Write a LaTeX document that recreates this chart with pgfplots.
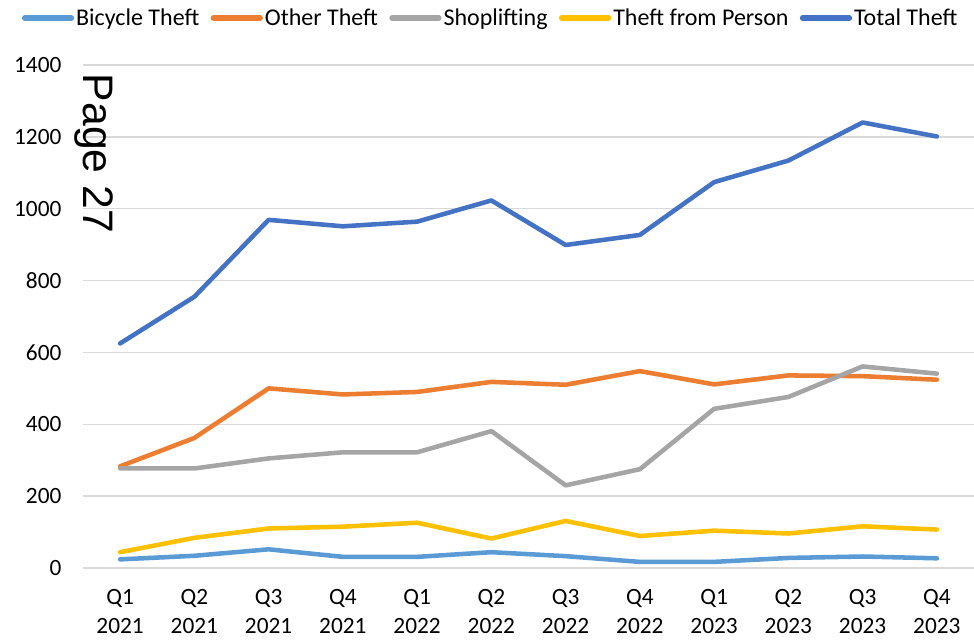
\documentclass[border=0pt]{standalone}
\usepackage{fontspec}
\setmainfont{Carlito}
\newfontfamily\pagefont{Liberation Sans}
\usepackage{pgfplots}
\pgfplotsset{compat=1.18}
\definecolor{cBike}{HTML}{5B9BD5}
\definecolor{cOther}{HTML}{ED7D31}
\definecolor{cShop}{HTML}{A5A5A5}
\definecolor{cPerson}{HTML}{FFC000}
\definecolor{cTotal}{HTML}{4472C4}
\definecolor{cGrid}{HTML}{D9D9D9}
\begin{document}
\begin{tikzpicture}
\useasboundingbox (-62.25pt,-53.25pt) rectangle (668.25pt,426pt);
\begin{axis}[
  at={(0pt,0pt)}, anchor=south west,
  scale only axis,
  width=668.25pt, height=377.25pt,
  xmin=-0.5, xmax=11.5, ymin=0, ymax=1400,
  xtick={0,...,11},
  xticklabels={{Q1\\2021},{Q2\\2021},{Q3\\2021},{Q4\\2021},{Q1\\2022},{Q2\\2022},{Q3\\2022},{Q4\\2022},{Q1\\2023},{Q2\\2023},{Q3\\2023},{Q4\\2023}},
  ytick={0,200,...,1400},
  ymajorgrids,
  major grid style={draw=cGrid, line width=1.1pt},
  axis line style={draw=none},
  major tick length=0pt,
  tick label style={font=\fontsize{17.5}{21.5}\selectfont, text=black},
  xticklabel style={align=center, inner sep=0pt, yshift=-16pt},
  yticklabel style={inner sep=0pt, xshift=-16pt},
  /pgf/number format/assume math mode=true,
  /pgf/number format/1000 sep={},
  legend columns=5,
  legend style={draw=none, fill=none, at={(0.4575,1.0934)}, anchor=center,
    font=\fontsize{18}{20}\selectfont, inner sep=0pt,
    /tikz/every even column/.append style={column sep=7pt},
    nodes={inner sep=1.5pt}},
  legend image code/.code={\draw[#1, line width=4.2pt, line cap=round] (0pt,0pt) -- (35pt,0pt);},
  every axis plot/.append style={line width=3.4pt, line join=round, line cap=round, mark=none},
]
\addplot[cBike] coordinates {(0,24)(1,34)(2,52)(3,31)(4,31)(5,44)(6,33)(7,17)(8,17)(9,28)(10,32)(11,27)};
\addlegendentry{Bicycle Theft}
\addplot[cOther] coordinates {(0,283)(1,362)(2,500)(3,483)(4,490)(5,518)(6,510)(7,548)(8,511)(9,536)(10,534)(11,524)};
\addlegendentry{Other Theft}
\addplot[cShop] coordinates {(0,277)(1,277)(2,305)(3,322)(4,322)(5,381)(6,230)(7,275)(8,443)(9,476)(10,561)(11,541)};
\addlegendentry{Shoplifting}
\addplot[cPerson] coordinates {(0,44)(1,84)(2,110)(3,115)(4,126)(5,82)(6,131)(7,89)(8,104)(9,96)(10,116)(11,107)};
\addlegendentry{Theft from Person}
\addplot[cTotal] coordinates {(0,625)(1,755)(2,969)(3,951)(4,964)(5,1023)(6,899)(7,927)(8,1074)(9,1134)(10,1240)(11,1201)};
\addlegendentry{Total Theft}
\end{axis}
\node[rotate=-90, font=\fontsize{32}{32}\pagefont, inner sep=0pt, anchor=center] at (8.5pt,310.9pt) {Page 27};
\end{tikzpicture}
\end{document}
